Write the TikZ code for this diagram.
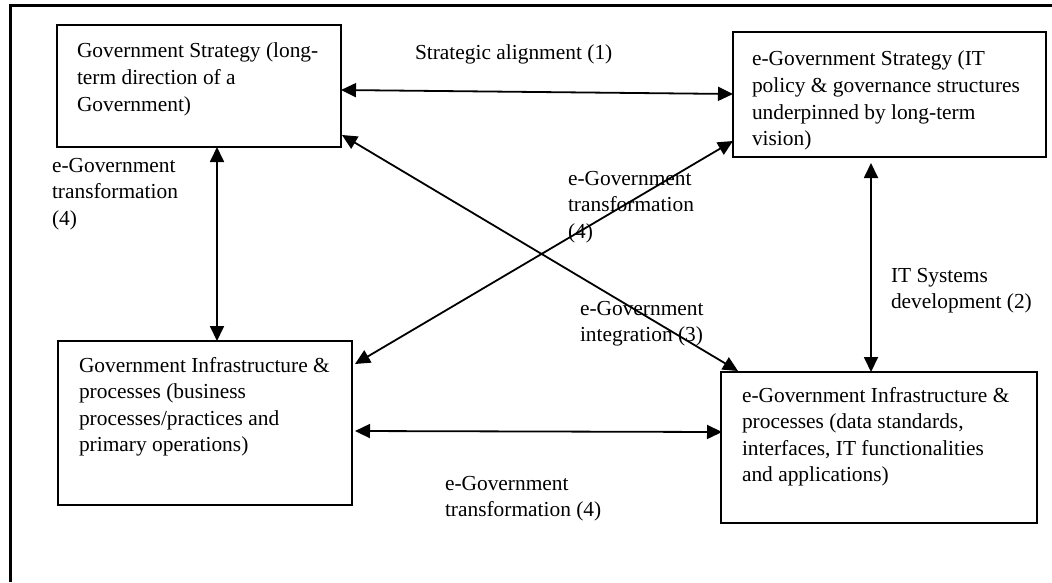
\documentclass[tikz,border=0pt]{standalone}
\usepackage{fontspec}
\setmainfont{Liberation Serif}
\usetikzlibrary{arrows.meta,calc}
\tikzset{
  box/.style={draw=black, line width=2pt, anchor=north west, inner sep=0pt, outer sep=0pt},
  txt/.style={anchor=north west, inner sep=0pt, outer sep=0pt, align=left, font=\fontsize{21.4}{26.6}\selectfont},
  dbl/.style={line width=1.8pt, {Triangle[length=15pt,width=14pt]}-{Triangle[length=15pt,width=14pt]}},
}
\begin{document}
\begin{tikzpicture}[x=1pt,y=-1pt]
\useasboundingbox (0,0) rectangle (1052,582);
% outer frame (top and left edges visible)
\draw[line width=3pt] (10,582) -- (10,5.5) -- (1052,5.5);
% boxes
\node[box, minimum width=284pt, minimum height=122pt] (b1) at (57,25) {};
\node[box, minimum width=313pt, minimum height=125pt] (b2) at (733,32) {};
\node[box, minimum width=294pt, minimum height=164pt] (b3) at (58,341) {};
\node[box, minimum width=316pt, minimum height=151pt] (b4) at (721,372) {};
% box texts
\node[txt] (t1) at ($(b1.north west)+(20,18)$) {Government Strategy (long-\\term direction of a\\Government)};
\node[txt] (t2) at ($(b2.north west)+(19,19)$) {e-Government Strategy (IT\\policy \& governance structures\\underpinned by long-term\\vision)};
\node[txt] (t3) at ($(b3.north west)+(21,16)$) {Government Infrastructure \&\\processes (business\\processes/practices and\\primary operations)};
\node[txt] (t4) at ($(b4.north west)+(21,15)$) {e-Government Infrastructure \&\\processes (data standards,\\interfaces, IT functionalities\\and applications)};
% connectors
\draw[dbl] ($(b1.north east)+(0,65)$) -- ($(b2.north west)+(0,62)$);
\draw[dbl] ($(b1.south west)+(160,0)$) -- ($(b3.north west)+(159,0)$);
\draw[dbl] ($(b2.south west)+(138,6)$) -- ($(b4.north west)+(150,0)$);
\draw[dbl] ($(b1.north east)+(1,110)$) -- ($(b4.north west)+(17,-1)$);
\draw[dbl] ($(b2.north west)+(0,109)$) -- ($(b3.north east)+(3,23)$);
\draw[dbl] ($(b3.north east)+(3,90)$) -- ($(b4.north west)+(1,60)$);
% labels
\node[txt] (l1) at (415,45) {Strategic alignment (1)};
\node[txt] (l2) at (52,158) {e-Government\\transformation\\(4)};
\node[txt] (l3) at (568,171) {e-Government\\transformation\\(4)};
\node[txt] (l4) at (891,268) {IT Systems\\development (2)};
\node[txt] (l5) at (580,301) {e-Government\\integration (3)};
\node[txt] (l6) at (445,476) {e-Government\\transformation (4)};
\end{tikzpicture}
\end{document}
